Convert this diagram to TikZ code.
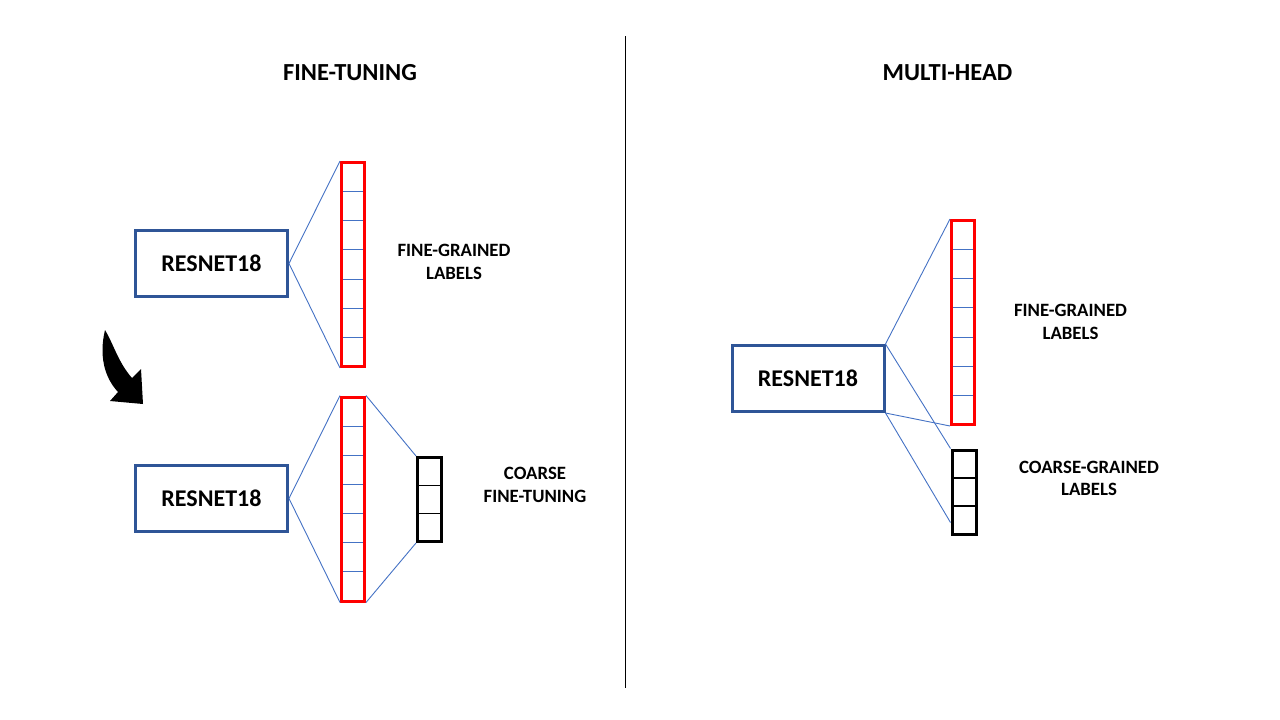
\documentclass[tikz,border=0pt]{standalone}
\usepackage{fontspec}
\setmainfont{Carlito}
\usetikzlibrary{positioning,calc}

\definecolor{boxblue}{HTML}{2F5597}
\definecolor{lineblue}{HTML}{4472C4}

\begin{document}
\begin{tikzpicture}[
        x=1pt, y=-1pt,
        resnet/.style={
                rectangle,
                draw=boxblue,
                line width=3pt,
                minimum width=152pt,
                minimum height=66pt,
                font=\fontsize{24}{29}\selectfont\bfseries
            },
        cellline/.style={
                draw=lineblue,
                line width=1pt
            },
        cells/.style={
                path picture={
                        \foreach \i in {1,...,#1}
                        \draw[cellline]
                        ($(path picture bounding box.north west)!\i/(#1+1)!(path picture bounding box.south west)$) --
                        ($(path picture bounding box.north east)!\i/(#1+1)!(path picture bounding box.south east)$);
                    }
            },
        finebar/.style={
                rectangle,
                draw=red,
                line width=3pt,
                inner sep=0pt,
                minimum width=23pt,
                minimum height=204pt,
                cells=6
            },
        coarsebar/.style={
                rectangle,
                draw=black,
                line width=3pt,
                inner sep=0pt,
                minimum width=24pt,
                minimum height=84pt,
                cellline/.style={draw=black, line width=1.2pt},
                cells=2
            },
        link/.style={
                draw=lineblue,
                line width=0.9pt
            },
        heading/.style={
                font=\fontsize{24.5}{29}\selectfont\bfseries
            },
        caption/.style={
                align=center,
                font=\fontsize{18.8}{22.5}\selectfont\bfseries
            }
    ]
    \useasboundingbox (0,0) rectangle (1280,720);

    % fine-tuning
    \node[heading] (titleFT) at (350,72.5) {FINE-TUNING};
    \node[resnet] (resA) at (211.5,263.5) {RESNET18};
    \node[finebar] (fineA) at (353,264.5) {};
    \node[caption] (capA) at (454,262) {FINE-GRAINED\\LABELS};

    \node[resnet] (resB) at (211.5,498.5) {RESNET18};
    \node[finebar] (fineB) at (353,499) {};
    \node[coarsebar] (coarseB) at (429.5,499.5) {};
    \node[caption] (capB) at (535,485) {COARSE\\FINE-TUNING};

    \draw[link] (resA.east) -- (fineA.north west);
    \draw[link] (resA.east) -- (fineA.south west);
    \draw[link] (resB.east) -- (fineB.north west);
    \draw[link] (resB.east) -- (fineB.south west);
    \draw[link] (fineB.north east) -- (coarseB.north west);
    \draw[link] (fineB.south east) -- (coarseB.south west);

    \fill (105,330) .. controls (99,355) and (104,377) .. (118,392)
        -- (110,401) -- (143,404) -- (141,369) -- (132,378)
        .. controls (118,362) and (114,345) .. (105,330) -- cycle;

    \draw[line width=1pt] (625,36) -- (625,688);

    % multi-head
    \node[heading] (titleMH) at (947.5,72.5) {MULTI-HEAD};
    \node[resnet] (resC) at (808,378.5) {RESNET18};
    \node[finebar] (fineC) at (963,322.5) {};
    \node[coarsebar] (coarseC) at (964,492) {};
    \node[caption] (capC) at (1070.5,322) {FINE-GRAINED\\LABELS};
    \node[caption] (capD) at (1089,478.5) {COARSE-GRAINED\\LABELS};

    \draw[link] (resC.north east) -- (fineC.north west);
    \draw[link] (resC.south east) -- (fineC.south west);
    \draw[link] (resC.north east) -- (coarseC.north west);
    \draw[link] (resC.south east) -- ($(coarseC.south west)+(0,-13)$);
\end{tikzpicture}
\end{document}
